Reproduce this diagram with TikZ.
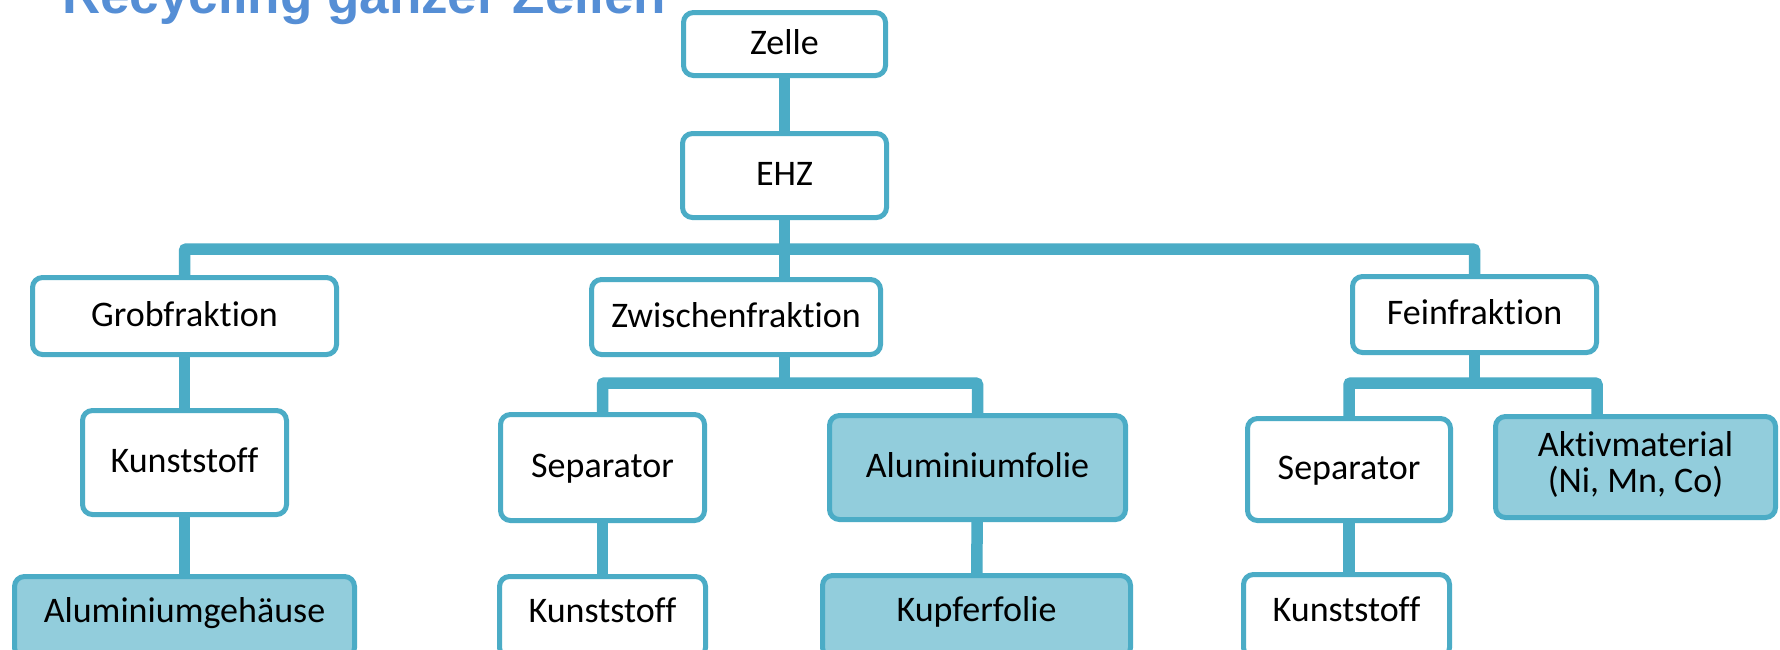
\documentclass[tikz,border=0pt]{standalone}
\usepackage{fontspec}
\setmainfont{Carlito}[RawFeature={-liga,-clig,-dlig}]
\newfontfamily\titlefont{Liberation Sans}
\definecolor{lineblue}{HTML}{4BACC6}
\definecolor{fillblue}{HTML}{92CDDC}
\definecolor{titleblue}{HTML}{558ED5}
\tikzset{
  box/.style={draw=lineblue, line width=5pt, rounded corners=10pt, fill=white,
    inner sep=0pt, text height=23pt, text depth=3pt, align=center,
    font=\fontsize{36}{36}\selectfont},
  hbox/.style={box, fill=fillblue},
  lowbox/.style={text depth=13pt},
  conn/.style={draw=lineblue, line width=11.5pt, rounded corners=2pt}
}
\begin{document}
\begin{tikzpicture}[x=1pt,y=-1pt]
\useasboundingbox (0,0) rectangle (1780,649);
\clip (0,0) rectangle (1780,649);
\fill[white] (0,0) rectangle (1780,649);
\node[anchor=base west, inner sep=0pt, text=titleblue,
  font=\titlefont\bfseries\fontsize{53}{60}\selectfont] (title) at (62,13.5) {Recycling ganzer Zellen};

\node[box, minimum width=202pt, minimum height=63pt] (zelle) at (784.5,44) {Zelle};
\node[box, minimum width=204pt, minimum height=84pt] (ehz) at (784.5,175.5) {EHZ};
\node[box, minimum width=304pt, minimum height=77pt] (grob) at (184.5,316) {Grobfraktion};
\node[box, minimum width=289pt, minimum height=75pt] (zw) at (736,317) {Zwischenfraktion};
\node[box, minimum width=244pt, minimum height=76pt] (fein) at (1474.5,314.5) {Feinfraktion};
\node[box, minimum width=204pt, minimum height=104pt] (k1) at (184.5,462.5) {Kunststoff};
\node[box, minimum width=204pt, minimum height=106pt] (sep1) at (602.5,467.5) {Separator};
\node[hbox, minimum width=296pt, minimum height=104pt] (alu) at (977.5,467.5) {Aluminiumfolie};
\node[box, minimum width=203pt, minimum height=102pt] (sep2) at (1349,469.5) {Separator};
\node[hbox, text height=53pt, minimum width=280pt, minimum height=101pt] (akt) at (1635.5,467) {Aktivmaterial\\(Ni, Mn, Co)};
\node[hbox, lowbox, minimum width=340pt, minimum height=81pt] (algeh) at (184.5,617) {Aluminiumgehäuse};
\node[box, lowbox, minimum width=206pt, minimum height=81pt] (k2) at (602.5,617) {Kunststoff};
\node[hbox, lowbox, minimum width=308pt, minimum height=82pt] (kupfer) at (976.5,616.5) {Kupferfolie};
\node[box, lowbox, minimum width=206pt, minimum height=83pt] (k3) at (1346.5,616) {Kunststoff};

\coordinate (bar) at (784.5,249);
\coordinate (zbar) at (784.5,383);
\coordinate (fbar) at (1474.5,383);
\coordinate (fr) at (1597,383);

\draw[conn] (zelle) -- (ehz);
\draw[conn] (ehz.south) -- (ehz.south |- zw.north);
\draw[conn] (grob.north) |- (bar) -| (fein.north);
\draw[conn] (grob) -- (k1);
\draw[conn] (k1) -- (algeh);
\draw[conn] (zw.south -| zbar) -- (zbar);
\draw[conn] (sep1.north) |- (zbar) -| (alu.north);
\draw[conn] (sep1) -- (k2);
\draw[conn] (alu) -- (kupfer);
\draw[conn] (fein) -- (fbar);
\draw[conn] (sep2.north) |- (fr) -- (fr |- akt.north);
\draw[conn] (sep2.south) -- (sep2.south |- k3.north);
\end{tikzpicture}
\end{document}
